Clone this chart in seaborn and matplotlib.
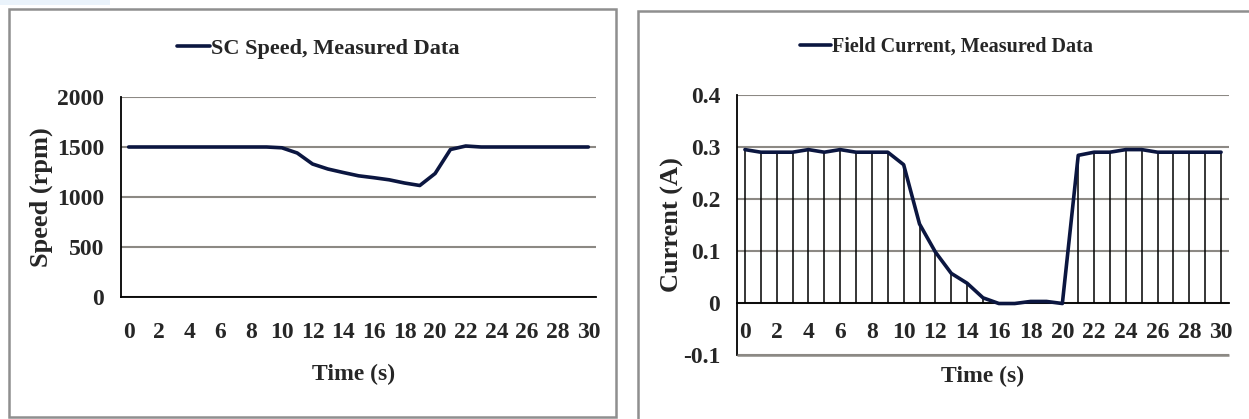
import matplotlib
matplotlib.use("Agg")
import matplotlib.pyplot as plt
import seaborn as sns
import pandas as pd
from matplotlib.patches import Rectangle

# Measured data, one sample per second
time_s = [0, 1, 2, 3, 4, 5, 6, 7, 8, 9, 10, 11, 12, 13, 14, 15,
          16, 17, 18, 19, 20, 21, 22, 23, 24, 25, 26, 27, 28, 29, 30]
speed_rpm = [1500, 1500, 1500, 1500, 1500, 1500, 1500, 1500, 1500, 1500,
             1492, 1440, 1330, 1280, 1245, 1212, 1193, 1172, 1140, 1115,
             1235, 1475, 1510, 1500, 1500, 1500, 1500, 1500, 1500, 1500, 1500]
current_a = [0.295, 0.290, 0.290, 0.290, 0.295, 0.290, 0.295, 0.290, 0.290, 0.290,
             0.266, 0.152, 0.098, 0.057, 0.038, 0.010, -0.001, -0.001, 0.003, 0.003,
             -0.001, 0.284, 0.290, 0.290, 0.295, 0.295, 0.290, 0.290, 0.290, 0.290, 0.290]

speed_label = "SC Speed, Measured Data"
current_label = "Field Current, Measured Data"
x_ticks = list(range(0, 31, 2))
speed_ticks = [0, 500, 1000, 1500, 2000]
current_ticks = [-0.1, 0.0, 0.1, 0.2, 0.3, 0.4]
current_tick_labels = ["-0.1", "0", "0.1", "0.2", "0.3", "0.4"]

df = pd.DataFrame({"time": time_s, "speed": speed_rpm, "current": current_a})

sns.set_theme(style="white")
plt.rcParams["font.family"] = ["Liberation Serif", "DejaVu Serif"]
plt.rcParams["font.weight"] = "bold"

LINE = "#0b1640"
GRID = "#8c8984"
FRAME = "#8f8f8f"
W, H = 1249, 419

fig = plt.figure(figsize=(W / 100, H / 100), dpi=100)
fig.patch.set_facecolor("white")


def px_axes(x0, y0, x1, y1):
    return fig.add_axes([x0 / W, 1 - y1 / H, (x1 - x0) / W, (y1 - y0) / H])


# panel frames
fig.patches.append(Rectangle((0, 1 - 5 / H), 110 / W, 5 / H, transform=fig.transFigure,
                             facecolor="#eaf3fb", edgecolor="none", zorder=0))
fig.patches.append(Rectangle((9 / W, 1 - 417 / H), 607 / W, 408 / H, transform=fig.transFigure,
                             facecolor="none", edgecolor=FRAME, lw=1.8, zorder=0))
fig.patches.append(Rectangle((638 / W, -0.05), 700 / W, 1.05 - 11 / H, transform=fig.transFigure,
                             facecolor="none", edgecolor=FRAME, lw=1.8, zorder=0))

tick_font = dict(fontsize=17, fontweight="bold")
label_font = dict(fontsize=19, fontweight="bold")


def style(ax):
    ax.set_facecolor("none")
    ax.spines["top"].set_visible(False)
    ax.spines["right"].set_visible(False)
    ax.spines["left"].set_color("black")
    ax.spines["left"].set_linewidth(1.3)
    ax.spines["bottom"].set_color("black")
    ax.spines["bottom"].set_linewidth(1.3)
    ax.grid(False)
    ax.yaxis.grid(True, color=GRID, lw=1.5)
    ax.set_axisbelow(True)
    ax.set_xlim(-0.5, 30.5)
    ax.set_xticks(x_ticks)
    ax.set_xticklabels([str(t) for t in x_ticks], **tick_font)
    ax.tick_params(axis="y", length=0, pad=12)


# ---- left: speed ----
ax1 = px_axes(121, 97, 596, 297)
sns.lineplot(data=df, x="time", y="speed", ax=ax1, color=LINE, lw=2.6,
             label=speed_label, zorder=3)
style(ax1)
ax1.set_ylim(0, 2000)
ax1.set_yticks(speed_ticks)
ax1.set_yticklabels([str(t) for t in speed_ticks], **tick_font)
ax1.tick_params(axis="x", length=0, pad=18)
ax1.set_ylabel("Speed (rpm)", **label_font)
ax1.yaxis.set_label_coords(-0.143, 0.5)
ax1.set_xlabel("Time (s)", fontsize=17, fontweight="bold")
ax1.xaxis.set_label_coords(0.49, -0.335)
ax1.legend(loc="center", bbox_to_anchor=(0.415, 1.24), frameon=False,
           handlelength=1.5, handletextpad=0.05,
           prop=dict(family="Liberation Serif", weight="bold", size=16))

# ---- right: field current ----
ax2 = px_axes(737, 95, 1229, 355)
ax2.spines["bottom"].set_position(("data", 0))
ax2.vlines(df["time"], 0, df["current"], color="black", lw=1.1, zorder=2)
sns.lineplot(data=df, x="time", y="current", ax=ax2, color=LINE, lw=2.6,
             label=current_label, zorder=3)
style(ax2)
ax2.set_ylim(-0.1, 0.4)
ax2.set_yticks(current_ticks)
ax2.set_yticklabels(current_tick_labels, **tick_font)
# bottom gridline sits on the lower edge of the plot area
ax2.plot([-0.5, 30.5], [current_ticks[0]] * 2, color=GRID, lw=1.8,
         clip_on=False, zorder=4, solid_capstyle="butt")
ax2.tick_params(axis="x", length=0, pad=14)
ax2.set_ylabel("Current (A)", **label_font)
ax2.yaxis.set_label_coords(-0.108, 0.5)
ax2.set_xlabel("Time (s)", fontsize=17, fontweight="bold")
ax2.xaxis.set_label_coords(0.5, -0.04)
ax2.legend(loc="center", bbox_to_anchor=(0.426, 1.185), frameon=False,
           handlelength=1.5, handletextpad=0.05,
           prop=dict(family="Liberation Serif", weight="bold", size=14.5))
ax2.set_xlim(-0.5, 30.5)

fig.savefig("out.png", dpi=100, facecolor="white")
